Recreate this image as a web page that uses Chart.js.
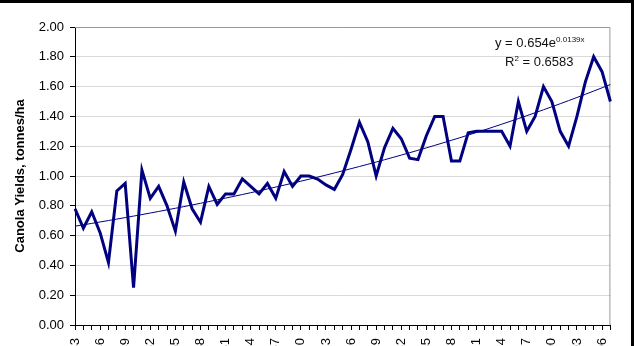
<!DOCTYPE html>
<html><head><meta charset="utf-8">
<script src="https://cdn.jsdelivr.net/npm/chart.js@4.4.1/dist/chart.umd.min.js"></script>
<style>
html,body{margin:0;padding:0;background:#fff;overflow:hidden;}
#wrap{position:relative;width:634px;height:346px;overflow:hidden;background:#fff;}
#c{position:absolute;left:0;top:0;}
#frame{position:absolute;left:0;top:0;width:634px;height:346px;border-top:3px solid #000;border-right:3px solid #000;box-sizing:border-box;pointer-events:none;}
.eq{position:absolute;font-family:'Liberation Sans',Arial,sans-serif;font-size:13px;color:#111;white-space:nowrap;line-height:15px;}
.eq sup{font-size:8px;vertical-align:5px;line-height:0;}
</style></head>
<body><div id="wrap"><canvas id="c" width="634" height="370"></canvas>
<div class="eq" style="left:495px;top:35px">y = 0.654e<sup>0.0139x</sup></div>
<div class="eq" style="left:505px;top:54px">R<sup>2</sup> = 0.6583</div>
<div id="frame"></div></div>
<script>
const years = [1943,1944,1945,1946,1947,1948,1949,1950,1951,1952,1953,1954,1955,1956,1957,1958,1959,1960,1961,1962,1963,1964,1965,1966,1967,1968,1969,1970,1971,1972,1973,1974,1975,1976,1977,1978,1979,1980,1981,1982,1983,1984,1985,1986,1987,1988,1989,1990,1991,1992,1993,1994,1995,1996,1997,1998,1999,2000,2001,2002,2003,2004,2005,2006,2007];
const yields = [0.78,0.65,0.76,0.62,0.42,0.90,0.95,0.25,1.04,0.85,0.93,0.80,0.63,0.96,0.78,0.69,0.93,0.81,0.88,0.88,0.98,0.93,0.88,0.95,0.85,1.03,0.93,1.00,1.00,0.98,0.94,0.91,1.01,1.18,1.36,1.23,1.00,1.19,1.32,1.25,1.12,1.11,1.27,1.40,1.40,1.10,1.10,1.29,1.30,1.30,1.30,1.30,1.20,1.50,1.30,1.40,1.60,1.50,1.30,1.20,1.40,1.63,1.80,1.70,1.50];
const trendCoef = [0.654, 0.0139]; // y = 0.654 e^(0.0139 x), as printed on the chart
const yTicks = [0,0.2,0.4,0.6,0.8,1.0,1.2,1.4,1.6,1.8,2.0];
const trend = years.map((_, i) => trendCoef[0] * Math.exp(trendCoef[1] * (i + 1)));

const FONT = "'Liberation Sans', Arial, sans-serif";
const plotFrame = {
  id: 'plotFrame',
  beforeDatasetsDraw(c) {
    const a = c.chartArea, g = c.ctx;
    g.save();
    g.strokeStyle = '#9a9a9a'; g.lineWidth = 1;
    g.beginPath();
    g.moveTo(a.left, a.top + 0.5);
    g.lineTo(a.right - 0.5, a.top + 0.5);
    g.lineTo(a.right - 0.5, a.bottom);
    g.stroke();
    g.restore();
  }
};

new Chart(document.getElementById('c'), {
  type: 'line',
  data: {
    labels: years,
    datasets: [
      { data: yields, borderColor: '#000080', borderWidth: 3, pointRadius: 0, tension: 0, fill: false, order: 1 },
      { data: trend, borderColor: '#000080', borderWidth: 1, pointRadius: 0, tension: 0, fill: false, order: 2 }
    ]
  },
  options: {
    responsive: false, animation: false, devicePixelRatio: 1,
    plugins: { legend: { display: false }, tooltip: { enabled: false } },
    layout: { padding: { top: 27, right: 13, left: 0, bottom: 0 } },
    scales: {
      x: {
        offset: false,
        grid: { display: true, drawOnChartArea: false, drawTicks: true, tickLength: 5, color: '#000', lineWidth: 1 },
        border: { display: true, color: '#000', width: 1 },
        ticks: { autoSkip: false, maxRotation: 90, minRotation: 90, padding: 8, color: '#000',
                 font: { family: FONT, size: 13 },
                 callback: (v, i) => (i % 3 === 0 ? String(years[i]) : '') },
        afterFit: (s) => { s.height = 45; }
      },
      y: {
        min: 0, max: 2,
        afterBuildTicks: (s) => { s.ticks = yTicks.map(v => ({ value: v })); },
        grid: { color: '#d9d9d9', tickColor: '#000', tickLength: 5, drawTicks: true },
        border: { display: true, color: '#000', width: 1 },
        ticks: { padding: 6, color: '#000', font: { family: FONT, size: 13 },
                 callback: (v) => Number(v).toFixed(2) },
        title: { display: true, text: 'Canola Yields, tonnes/ha', color: '#000',
                 font: { family: FONT, size: 13, weight: 'bold' }, padding: { top: 13, bottom: 0 } },
        afterFit: (s) => { s.width = 75; }
      }
    }
  },
  plugins: [plotFrame]
});
</script>
</body></html>
